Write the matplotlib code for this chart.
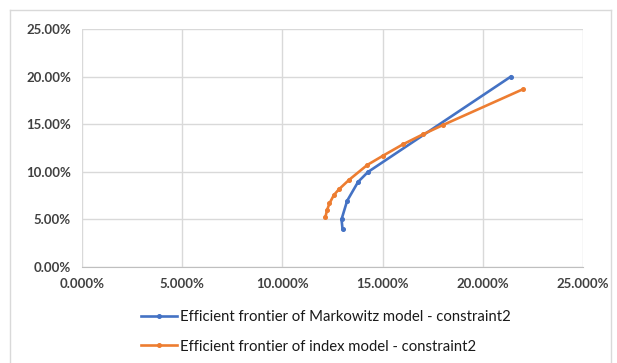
import matplotlib.pyplot as plt
from matplotlib.ticker import FuncFormatter
from matplotlib.lines import Line2D

plt.rcParams['font.family'] = ['Lato', 'DejaVu Sans']

# risk (std dev, %) and return (%) for each frontier
markowitz_risk = [13.00, 12.95, 13.23, 13.78, 14.27, 21.40]
markowitz_ret = [4.00, 5.00, 6.95, 8.95, 9.98, 20.00]

index_risk = [12.15, 12.23, 12.35, 12.57, 12.82, 13.32, 14.23, 15.02, 16.02, 17.02, 18.02, 22.00]
index_ret = [5.29, 5.99, 6.69, 7.56, 8.16, 9.14, 10.71, 11.69, 12.89, 13.94, 14.92, 18.67]

labels = ["Efficient frontier of Markowitz model - constraint2",
          "Efficient frontier of index model - constraint2"]

W, H = 617, 363
fig = plt.figure(figsize=(W / 100, H / 100), dpi=100)
ax = fig.add_axes([82 / W, 1 - 267 / H, (583 - 82) / W, (267 - 29) / H])

ax.plot(markowitz_risk, markowitz_ret, color='#4472c4', lw=1.9,
        marker='o', ms=2.6, label=labels[0], zorder=3)
ax.plot(index_risk, index_ret, color='#ed7d31', lw=1.9,
        marker='o', ms=2.6, label=labels[1], zorder=3)

ax.set_xlim(0, 25)
ax.set_ylim(0, 25)
ax.set_xticks([0, 5, 10, 15, 20, 25])
ax.set_yticks([0, 5, 10, 15, 20, 25])
ax.xaxis.set_major_formatter(FuncFormatter(lambda v, p: f"{v:.3f}%"))
ax.yaxis.set_major_formatter(FuncFormatter(lambda v, p: f"{v:.2f}%"))
ax.grid(True, color='#d9d9d9', lw=1)
ax.set_axisbelow(True)
for s in ['top', 'right', 'left']:
    ax.spines[s].set_visible(False)
ax.spines['bottom'].set_color('#bfbfbf')
ax.tick_params(length=0, labelsize=9.5, colors='#404040', pad=8)
for t in ax.get_xticklabels() + ax.get_yticklabels():
    t.set_fontweight('bold')

fig.legend(loc='upper left', bbox_to_anchor=(135 / W, 1 - 304 / H),
           frameon=False, fontsize=10.7, handlelength=2.4, handletextpad=0.2,
           labelspacing=1.05, borderaxespad=0, labelcolor='#1a1a1a')

# light frame round the chart area
fig.add_artist(Line2D([10 / W, 10 / W], [0, 1 - 10 / H], transform=fig.transFigure, color='#d9d9d9', lw=1))
fig.add_artist(Line2D([10 / W, 611 / W], [1 - 10 / H, 1 - 10 / H], transform=fig.transFigure, color='#d9d9d9', lw=1))
fig.add_artist(Line2D([611 / W, 611 / W], [0, 1 - 10 / H], transform=fig.transFigure, color='#d9d9d9', lw=1))

fig.savefig('out.png', dpi=100)
